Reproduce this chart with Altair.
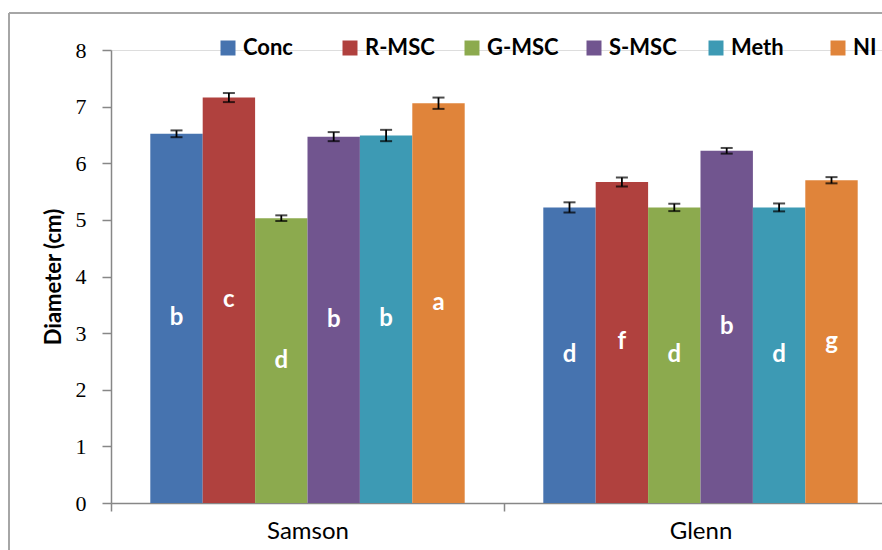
import altair as alt
import pandas as pd

# Stem diameter by treatment for two cultivars
cultivars = ["Samson", "Glenn"]
treatments = ["Conc", "R-MSC", "G-MSC", "S-MSC", "Meth", "NI"]
colors = ["#4673AF", "#B0413E", "#8CAA4E", "#71558F", "#3D9AB4", "#E0843A"]

samson_mean = [6.52, 7.16, 5.03, 6.47, 6.49, 7.06]
samson_err = [0.06, 0.08, 0.05, 0.08, 0.10, 0.10]
samson_letter = ["b", "c", "d", "b", "b", "a"]

glenn_mean = [5.22, 5.67, 5.22, 6.22, 5.22, 5.70]
glenn_err = [0.09, 0.08, 0.065, 0.05, 0.07, 0.055]
glenn_letter = ["d", "f", "d", "b", "d", "g"]

rows = []
for cv, means, errs, letters in [
    ("Samson", samson_mean, samson_err, samson_letter),
    ("Glenn", glenn_mean, glenn_err, glenn_letter),
]:
    for t, m, e, l in zip(treatments, means, errs, letters):
        rows.append({"cultivar": cv, "treatment": t, "mean": m, "err": e, "letter": l})
df = pd.DataFrame(rows)

SANS = "Lato"
SERIF = "Liberation Serif"
AXIS_GREY = "#878787"

x_enc = alt.X(
    "cultivar:N",
    sort=cultivars,
    scale=alt.Scale(paddingInner=0, paddingOuter=0, range=[0, 786]),
    axis=alt.Axis(
        title=None,
        labelAngle=0,
        labelFont=SANS,
        labelFontSize=24,
        labelColor="black",
        labelPadding=8,
        tickBand="extent",
        tickSize=8,
        tickColor=AXIS_GREY,
        domainColor=AXIS_GREY,
        domainWidth=1.5,
        tickWidth=1.5,
    ),
)
xo_enc = alt.XOffset(
    "treatment:N",
    sort=treatments,
    scale=alt.Scale(paddingInner=0, paddingOuter=0.75),
)
y_scale = alt.Scale(domain=[0, 8], nice=False)

base = alt.Chart(df).transform_calculate(
    lo="datum.mean - datum.err",
    hi="datum.mean + datum.err",
    mid="datum.mean / 2",
)

bars = base.mark_bar().encode(
    x=x_enc,
    xOffset=xo_enc,
    y=alt.Y(
        "mean:Q",
        scale=y_scale,
        axis=alt.Axis(
            title="Diameter (cm)",
            titleFont=SANS,
            titleFontSize=22,
            titleFontWeight="bold",
            titleColor="black",
            titlePadding=10,
            values=[0, 1, 2, 3, 4, 5, 6, 7, 8],
            format="d",
            labelFont=SERIF,
            labelFontSize=22,
            labelColor="black",
            labelPadding=16,
            tickSize=9,
            tickColor=AXIS_GREY,
            domainColor=AXIS_GREY,
            domainWidth=1.5,
            tickWidth=1.5,
            grid=False,
        ),
    ),
    color=alt.Color(
        "treatment:N",
        sort=treatments,
        scale=alt.Scale(domain=treatments, range=colors),
        legend=alt.Legend(
            title=None,
            orient="none",
            direction="horizontal",
            columns=6,
            gridAlign="all",
            legendX=106,
            legendY=-13,
            symbolType="square",
            symbolSize=225,
            symbolStrokeWidth=0,
            labelFont=SANS,
            labelFontSize=22,
            labelFontWeight="bold",
            labelColor="black",
            labelOffset=4,
            columnPadding=24,
        ),
    ),
)

stems = base.mark_rule(color="black", strokeWidth=1.8).encode(
    x=x_enc, xOffset=xo_enc, y=alt.Y("lo:Q", scale=y_scale), y2="hi:Q"
)
cap_lo = base.mark_tick(color="black", thickness=2, size=12).encode(
    x=x_enc, xOffset=xo_enc, y=alt.Y("lo:Q", scale=y_scale)
)
cap_hi = base.mark_tick(color="black", thickness=2, size=12).encode(
    x=x_enc, xOffset=xo_enc, y=alt.Y("hi:Q", scale=y_scale)
)

letters = base.mark_text(
    color="white", font=SANS, fontSize=24, fontWeight="bold", baseline="middle"
).encode(x=x_enc, xOffset=xo_enc, y=alt.Y("mid:Q", scale=y_scale), text="letter:N")

# Outer chart frame (left and top edges)
frame_src = alt.Data(values=[{"k": 0}])
frame_left = alt.Chart(frame_src).mark_rule(color="#A6A6A6", strokeWidth=2).encode(
    x=alt.value(-102), y=alt.value(-37), y2=alt.value(520)
)
frame_top = alt.Chart(frame_src).mark_rule(color="#A6A6A6", strokeWidth=2).encode(
    x=alt.value(-102), x2=alt.value(800), y=alt.value(-37)
)

chart = (
    alt.layer(frame_left, frame_top, bars, stems, cap_lo, cap_hi, letters)
    .properties(
        width=771,
        height=453,
        autosize=alt.AutoSizeParams(type="none"),
        padding={"left": 111, "top": 50, "right": 0, "bottom": 47},
    )
    .configure_view(stroke="transparent")
    .configure(background="white")
)

chart.save("out.html", embed_options={"renderer": "svg", "actions": False})
